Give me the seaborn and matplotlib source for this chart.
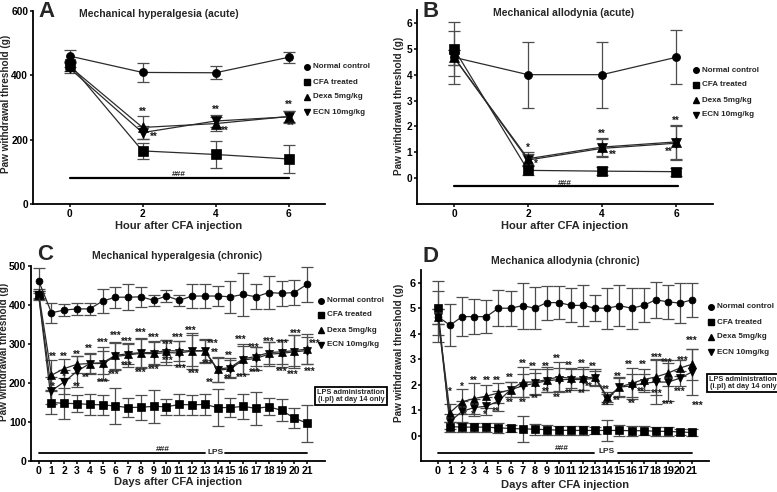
import matplotlib
matplotlib.use("Agg")
import matplotlib.pyplot as plt
from matplotlib.lines import Line2D
import seaborn as sns

# ---------------- data ----------------
series_names = ["Normal control", "CFA treated", "Dexa 5mg/kg", "ECN 10mg/kg"]

# Panel A: mechanical hyperalgesia (acute)
a_hours = [0, 2, 4, 6]
a_normal = [460, 409, 408, 456]
a_normal_err = [18, 29, 20, 18]
a_cfa = [435, 165, 154, 140]
a_cfa_err = [10, 25, 42, 43]
a_dexa = [428, 238, 250, 272]
a_dexa_err = [15, 37, 22, 18]
a_ecn = [422, 222, 258, 271]
a_ecn_err = [15, 20, 20, 18]

# Panel B: mechanical allodynia (acute)
b_hours = [0, 2, 4, 6]
b_normal = [4.67, 4.0, 4.0, 4.67]
b_normal_err = [1.02, 1.27, 1.27, 1.05]
b_cfa = [5.0, 0.3, 0.27, 0.25]
b_cfa_err = [1.05, 0.18, 0.15, 0.15]
b_dexa = [4.67, 0.75, 1.2, 1.4]
b_dexa_err = [0.3, 0.25, 0.35, 0.65]
b_ecn = [4.67, 0.7, 1.15, 1.35]
b_ecn_err = [0.3, 0.25, 0.35, 0.65]

# Panel C: mechanical hyperalgesia (chronic)
c_days = list(range(22))
c_normal = [462, 380, 387, 390, 390, 410, 420, 420, 421, 412, 423, 412,
            423, 423, 423, 421, 427, 421, 432, 430, 432, 453]
c_normal_err = [32, 26, 15, 15, 15, 31, 27, 33, 26, 14, 15, 14,
                30, 30, 26, 41, 55, 32, 42, 32, 31, 45]
c_cfa = [425, 150, 148, 147, 145, 144, 141, 137, 138, 140, 139, 145,
         144, 145, 137, 137, 140, 135, 139, 130, 110, 97]
c_cfa_err = [10, 30, 40, 22, 28, 25, 47, 24, 32, 42, 20, 28,
             25, 26, 47, 24, 32, 42, 22, 28, 25, 47]
c_dexa = [430, 220, 237, 248, 250, 252, 271, 275, 278, 278, 283, 282,
          283, 283, 235, 240, 262, 268, 278, 280, 283, 287]
c_dexa_err = [12, 38, 25, 22, 28, 30, 35, 25, 38, 30, 28, 25,
              40, 28, 32, 24, 38, 25, 28, 30, 40, 38]
c_ecn = [425, 180, 203, 230, 250, 250, 268, 272, 276, 275, 278, 277,
         282, 282, 233, 236, 259, 263, 274, 276, 280, 283]
c_ecn_err = [12, 35, 30, 40, 25, 42, 35, 30, 38, 30, 32, 30,
             45, 30, 30, 22, 35, 30, 30, 35, 42, 35]

# Panel D: mechanical allodynia (chronic)
d_days = list(range(22))
d_normal = [4.67, 4.33, 4.67, 4.67, 4.67, 5.0, 5.0, 5.1, 5.0, 5.22, 5.22, 5.11,
            5.11, 5.0, 5.0, 5.1, 5.0, 5.11, 5.33, 5.25, 5.2, 5.33]
d_normal_err = [1.0, 0.82, 0.76, 0.68, 0.66, 0.7, 0.68, 0.9, 0.82, 0.67, 0.65, 0.67,
                0.8, 0.5, 0.8, 0.8, 0.8, 0.67, 0.7, 0.67, 0.77, 0.67]
d_cfa = [5.0, 0.35, 0.33, 0.33, 0.33, 0.3, 0.28, 0.26, 0.25, 0.23, 0.21, 0.2,
         0.2, 0.2, 0.2, 0.2, 0.19, 0.19, 0.17, 0.16, 0.14, 0.12]
d_cfa_err = [1.05, 0.2, 0.18, 0.18, 0.18, 0.2, 0.15, 0.5, 0.22, 0.2, 0.18, 0.18,
             0.18, 0.15, 0.4, 0.2, 0.2, 0.18, 0.18, 0.18, 0.12, 0.15]
d_dexa = [4.67, 0.9, 1.33, 1.45, 1.55, 1.67, 1.8, 2.1, 2.1, 2.2, 2.3, 2.25,
          2.25, 2.3, 1.5, 1.9, 2.05, 2.2, 2.3, 2.45, 2.65, 2.8]
d_dexa_err = [0.3, 0.35, 0.5, 0.6, 0.45, 0.4, 0.3, 0.6, 0.5, 0.5, 0.6, 0.4,
              0.45, 0.3, 0.2, 0.4, 0.6, 0.4, 0.7, 0.5, 0.3, 0.6]
d_ecn = [4.67, 0.55, 0.95, 1.1, 1.15, 1.35, 1.8, 1.95, 2.05, 2.15, 2.2, 2.2,
         2.2, 2.25, 1.45, 1.9, 1.95, 2.05, 2.1, 2.1, 2.25, 2.5]
d_ecn_err = [0.3, 0.3, 0.4, 0.35, 0.35, 0.4, 0.3, 0.45, 0.4, 0.45, 0.45, 0.4,
             0.4, 0.3, 0.2, 0.35, 0.45, 0.35, 0.85, 0.75, 0.3, 0.9]

# significance annotations (x, y, text)
a_stars = [(2, 287, "**"), (2.3, 209, "**"), (4, 294, "**"), (4.25, 228, "**"),
           (6, 308, "**"), (6.05, 243, "**")]
b_stars = [(2, 1.16, "*"), (2.2, 0.55, "*"), (4, 1.7, "**"), (4.3, 0.9, "**"),
           (6, 2.2, "**"), (5.8, 1.0, "**")]
c_stars = [(1.1, 267, "**"), (2.0, 267, "**"), (3.0, 272, "**"), (3.9, 287, "**"),
           (5.0, 302, "***"), (6.0, 320, "***"), (6.9, 305, "***"), (8.0, 328, "***"),
           (9.0, 315, "***"), (10.1, 297, "***"), (10.9, 315, "***"), (11.9, 335, "***"),
           (13.6, 300, "***"), (13.8, 277, "**"), (14.9, 269, "**"), (15.8, 310, "***"),
           (16.8, 290, "***"), (18.0, 305, "***"), (19.1, 300, "***"), (20.1, 325, "***"),
           (21.6, 300, "***"),
           (1.1, 190, "*"), (2.0, 216, "*"), (3.0, 190, "**"), (3.7, 213, "**"),
           (5.0, 200, "***"), (5.9, 220, "***"), (6.9, 243, "***"), (8.0, 226, "***"),
           (9.0, 235, "***"), (10.1, 256, "***"), (11.1, 236, "***"), (12.1, 223, "***"),
           (13.2, 249, "***"), (13.4, 200, "**"), (14.8, 210, "**"), (15.9, 213, "***"),
           (16.9, 225, "***"), (19.0, 228, "***"), (19.9, 220, "***"), (21.2, 228, "***")]
d_stars = [(1.0, 1.73, "*"), (2.0, 1.93, "*"), (3.0, 2.15, "**"), (4.0, 2.13, "**"),
           (4.9, 2.13, "**"), (5.9, 2.28, "**"), (7.0, 2.83, "**"), (7.8, 2.68, "**"),
           (8.9, 2.7, "**"), (9.8, 3.03, "**"), (10.8, 2.72, "**"), (11.9, 2.83, "**"),
           (12.8, 2.68, "**"), (13.9, 1.81, "**"), (14.9, 2.32, "**"), (15.8, 2.76, "**"),
           (16.9, 2.76, "**"), (18.1, 3.07, "***"), (18.9, 2.87, "***"), (20.2, 2.95, "***"),
           (21.0, 3.7, "***"),
           (2.2, 0.8, "*"), (2.9, 0.8, "*"), (3.9, 0.83, "*"), (4.8, 0.92, "**"),
           (5.9, 1.3, "**"), (7.0, 1.3, "**"), (8.0, 1.45, "**"), (8.9, 1.7, "**"),
           (9.8, 1.47, "**"), (10.8, 1.65, "**"), (11.9, 1.65, "**"), (12.5, 1.9, "**"),
           (13.9, 1.15, "**"), (14.8, 1.37, "**"), (16.0, 1.25, "**"), (16.8, 1.7, "**"),
           (18.1, 1.65, "***"), (19.0, 1.22, "***"), (20.0, 1.7, "***"), (21.5, 1.15, "***")]

# ---------------- style ----------------
sns.set_style("ticks")
plt.rcParams["font.family"] = ["Liberation Sans", "DejaVu Sans"]
plt.rcParams["font.weight"] = "bold"

W, H = 777, 492
fig = plt.figure(figsize=(W / 100, H / 100), dpi=100)


def box(l, t, r, b):
    return [l / W, 1 - b / H, (r - l) / W, (b - t) / H]


def fx(x):
    return x / W


def fy(y):
    return 1 - y / H


markers = ["o", "s", "^", "v"]


def draw_panel(ax, x, ys, errs, msizes, cap, tickfs):
    order = [1, 3, 2, 0]
    for i in order:
        ax.errorbar(x, ys[i], yerr=errs[i], fmt="none", ecolor="#4d4d4d",
                    elinewidth=0.9, capsize=cap, capthick=0.9, zorder=2)
    for i in order:
        sns.lineplot(x=x, y=ys[i], ax=ax, color="#2b2b2b", linewidth=0.9,
                     marker=markers[i], markersize=msizes[i],
                     markerfacecolor="black", markeredgecolor="black",
                     markeredgewidth=0.5, legend=False, zorder=3)
    for s in ["top", "right"]:
        ax.spines[s].set_visible(False)
    for s in ["left", "bottom"]:
        ax.spines[s].set_linewidth(1.3)
        ax.spines[s].set_color("black")
    ax.tick_params(axis="both", direction="out", length=2.5, width=1.1,
                   labelsize=tickfs, colors="black", pad=1)
    for lab in ax.get_xticklabels() + ax.get_yticklabels():
        lab.set_fontweight("bold")
    ax.set_xlabel("")
    ax.set_ylabel("")


def stars(ax, lst, fs=7):
    for x, y, t in lst:
        ax.text(x, y, t, ha="center", va="center", fontsize=fs,
                fontweight="bold", color="#1a1a1a", zorder=4)


def legend(mx, tx, rows):
    for i, (y, name) in enumerate(zip(rows, series_names)):
        fig.add_artist(Line2D([fx(mx)], [fy(y)], marker=markers[i], color="black",
                              markersize=4, linestyle="none",
                              transform=fig.transFigure))
        fig.text(fx(tx), fy(y), name, fontsize=5.8, fontweight="bold",
                 va="center", ha="left")


# ---------- Panel A ----------
axA = fig.add_axes(box(33, 11, 325, 204))
draw_panel(axA, a_hours, [a_normal, a_cfa, a_dexa, a_ecn],
           [a_normal_err, a_cfa_err, a_dexa_err, a_ecn_err],
           [5.8, 6.7, 6.5, 6.5], 4, 7.3)
axA.set_xlim(-1, 7)
axA.set_ylim(0, 600)
axA.set_xticks([0, 2, 4, 6])
axA.set_yticks([0, 200, 400, 600])
stars(axA, a_stars)
axA.plot([0, 6], [80, 80], color="black", lw=1.6)
axA.text(3, 82, "###", ha="center", va="bottom", fontsize=6, fontweight="bold")

# ---------- Panel B ----------
axB = fig.add_axes(box(417, 10, 713, 204))
draw_panel(axB, b_hours, [b_normal, b_cfa, b_dexa, b_ecn],
           [b_normal_err, b_cfa_err, b_dexa_err, b_ecn_err],
           [5.8, 6.7, 6.5, 6.5], 4, 7.3)
axB.set_xlim(-1, 7)
axB.set_ylim(-1, 6.5)
axB.set_xticks([0, 2, 4, 6])
axB.set_yticks(range(0, 7))
stars(axB, b_stars)
axB.plot([0, 6.05], [-0.31, -0.31], color="black", lw=1.6)
axB.text(3, -0.2, "###", ha="center", va="center", fontsize=6, fontweight="bold")

# ---------- Panel C ----------
axC = fig.add_axes(box(31, 266, 325, 461))
draw_panel(axC, c_days, [c_normal, c_cfa, c_dexa, c_ecn],
           [c_normal_err, c_cfa_err, c_dexa_err, c_ecn_err],
           [5.0, 5.8, 5.4, 5.4], 4.5, 7.5)
axC.set_xlim(-0.6, 22.4)
axC.set_ylim(0, 500)
axC.set_xticks(c_days)
axC.set_yticks(range(0, 501, 100))
stars(axC, c_stars)
axC.plot([0, 13], [20, 20], color="black", lw=1.3)
axC.plot([14.6, 21], [20, 20], color="black", lw=1.3)
axC.text(13.8, 22, "LPS", ha="center", va="center", fontsize=6, fontweight="bold")
axC.text(9.7, 21, "###", ha="center", va="bottom", fontsize=6, fontweight="bold")

# ---------- Panel D ----------
axD = fig.add_axes(box(421, 270, 709, 461))
draw_panel(axD, d_days, [d_normal, d_cfa, d_dexa, d_ecn],
           [d_normal_err, d_cfa_err, d_dexa_err, d_ecn_err],
           [5.0, 5.8, 5.4, 5.4], 4.5, 7.8)
axD.set_xlim(-1.4, 22.4)
axD.set_ylim(-1, 6.5)
axD.set_xticks(d_days)
axD.set_yticks(range(0, 7))
stars(axD, d_stars)
axD.plot([0, 12.9], [-0.68, -0.68], color="black", lw=1.3)
axD.plot([14.9, 21], [-0.68, -0.68], color="black", lw=1.3)
axD.text(13.9, -0.62, "LPS", ha="center", va="center", fontsize=6, fontweight="bold")
axD.text(10.2, -0.64, "###", ha="center", va="bottom", fontsize=6, fontweight="bold")

# ---------- panel letters & titles ----------
for (x, y, t) in [(38, 17, "A"), (423, 17, "B"), (37, 260, "C"), (422, 262, "D")]:
    fig.text(fx(x), fy(y), t, fontsize=16, fontweight="bold", ha="left", va="baseline")

for (x, y, t) in [(159, 17, "Mechanical hyperalgesia (acute)"),
                  (564, 16, "Mechanical allodynia (acute)"),
                  (177, 259, "Mechanical hyperalgesia (chronic)"),
                  (565, 264, "Mechanica allodynia (chronic)")]:
    fig.text(fx(x), fy(y), t, fontsize=7.5, fontweight="bold", ha="center", va="baseline")

# ---------- axis labels ----------
for (x, y) in [(6, 104), (399, 106), (4.5, 352), (399, 353)]:
    fig.text(fx(x), fy(y), "Paw withdrawal threshold (g)", rotation=90, fontsize=7.2,
             fontweight="bold", ha="center", va="center")
for (x, y, t) in [(179, 226, "Hour after CFA injection"),
                  (565, 226, "Hour after CFA injection"),
                  (178, 482, "Days after CFA injection"),
                  (565, 485, "Days after CFA injection")]:
    fig.text(fx(x), fy(y), t, fontsize=8, fontweight="bold", ha="center", va="center")

# ---------- legends ----------
legend(307, 313, [67, 82, 97, 112])
legend(696, 702, [70, 85, 100, 115])
legend(321, 327, [301, 315, 330, 345])
legend(711, 717, [307, 322, 337, 352])

# ---------- LPS boxes ----------
for (x, y) in [(351, 396), (743, 383)]:
    fig.text(fx(x), fy(y), "LPS administration\n(i.pl) at day 14 only", fontsize=5.3,
             fontweight="bold", ha="center", va="center", linespacing=1.1,
             bbox=dict(boxstyle="square,pad=0.25", fc="white", ec="black", lw=1.3))

fig.savefig("out.png", dpi=100)
